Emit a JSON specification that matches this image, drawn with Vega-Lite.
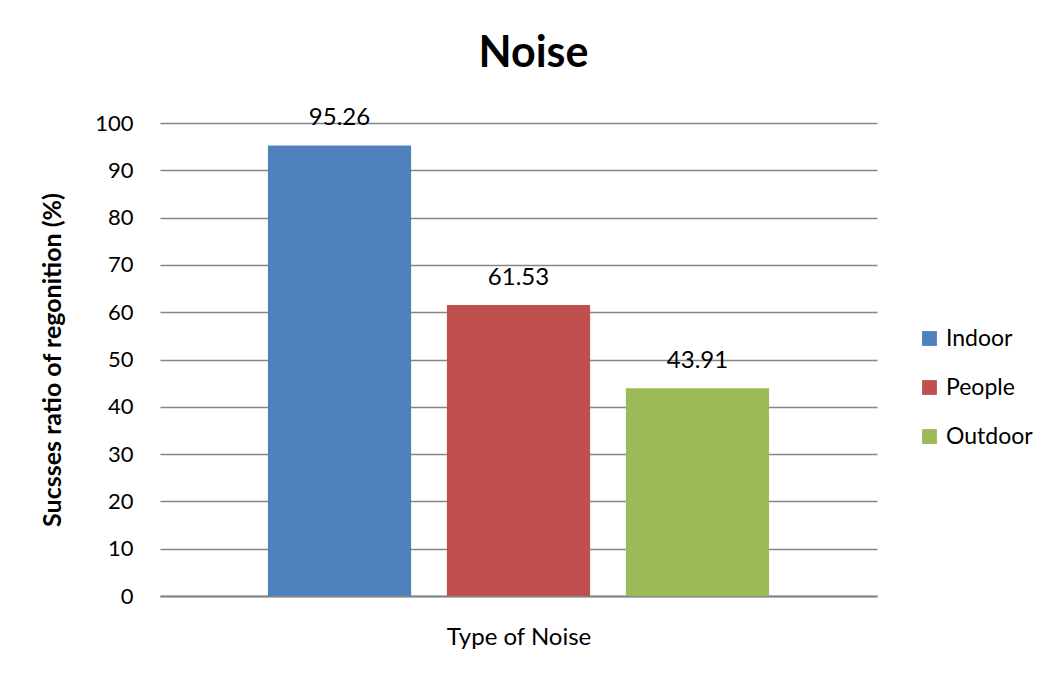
{
  "$schema": "https://vega.github.io/schema/vega-lite/v6.json",
  "width": 717,
  "height": 473,
  "autosize": {"type": "none"},
  "padding": {"left": 160, "top": 123, "right": 171, "bottom": 81},
  "background": "white",
  "title": {"text": "Noise", "font": "Lato", "fontSize": 43, "fontWeight": "bold", "color": "#000000", "anchor": "middle", "offset": 30, "dx": 15},
  "data": {"values": [
    {"type": "Indoor", "value": 95.26},
    {"type": "People", "value": 61.53},
    {"type": "Outdoor", "value": 43.91}
  ]},
  "encoding": {
    "x": {"field": "type", "type": "nominal", "sort": ["Indoor", "People", "Outdoor"],
      "scale": {"paddingInner": 0.2, "paddingOuter": 0.603},
      "axis": {"title": "Type of Noise", "labels": false, "ticks": false, "domainColor": "#868686", "domainWidth": 2, "titleFont": "Lato", "titleFontSize": 24, "titleFontWeight": "normal", "titleColor": "#000000", "titlePadding": 29}},
    "y": {"field": "value", "type": "quantitative", "scale": {"domain": [0, 100]},
      "axis": {"title": "Sucsses ratio of regonition (%)", "values": [0,10,20,30,40,50,60,70,80,90,100], "domain": false, "ticks": false, "gridColor": "#868686", "gridWidth": 1.5, "labelFont": "Lato", "labelFontSize": 22, "labelColor": "#000000", "labelPadding": 27, "titleFont": "Lato", "titleFontSize": 25, "titleFontWeight": "bold", "titleColor": "#000000", "titlePadding": 29}}
  },
  "layer": [
    {"mark": {"type": "bar"},
     "encoding": {"color": {"field": "type", "type": "nominal", "sort": ["Indoor", "People", "Outdoor"],
       "scale": {"domain": ["Indoor", "People", "Outdoor"], "range": ["#4F81BD", "#C0504D", "#9BBB59"]},
       "legend": {"title": null, "orient": "none", "legendX": 758, "legendY": 204, "symbolType": "square", "symbolSize": 220, "symbolStrokeWidth": 0, "labelFont": "Lato", "labelFontSize": 23, "labelColor": "#000000", "rowPadding": 25, "labelOffset": 5}}}},
    {"mark": {"type": "text", "baseline": "bottom", "dy": -15, "font": "Lato", "fontSize": 24, "color": "#000000"},
     "encoding": {"text": {"field": "value", "type": "quantitative", "format": ".2f"}}}
  ],
  "config": {"view": {"stroke": null}}
}
